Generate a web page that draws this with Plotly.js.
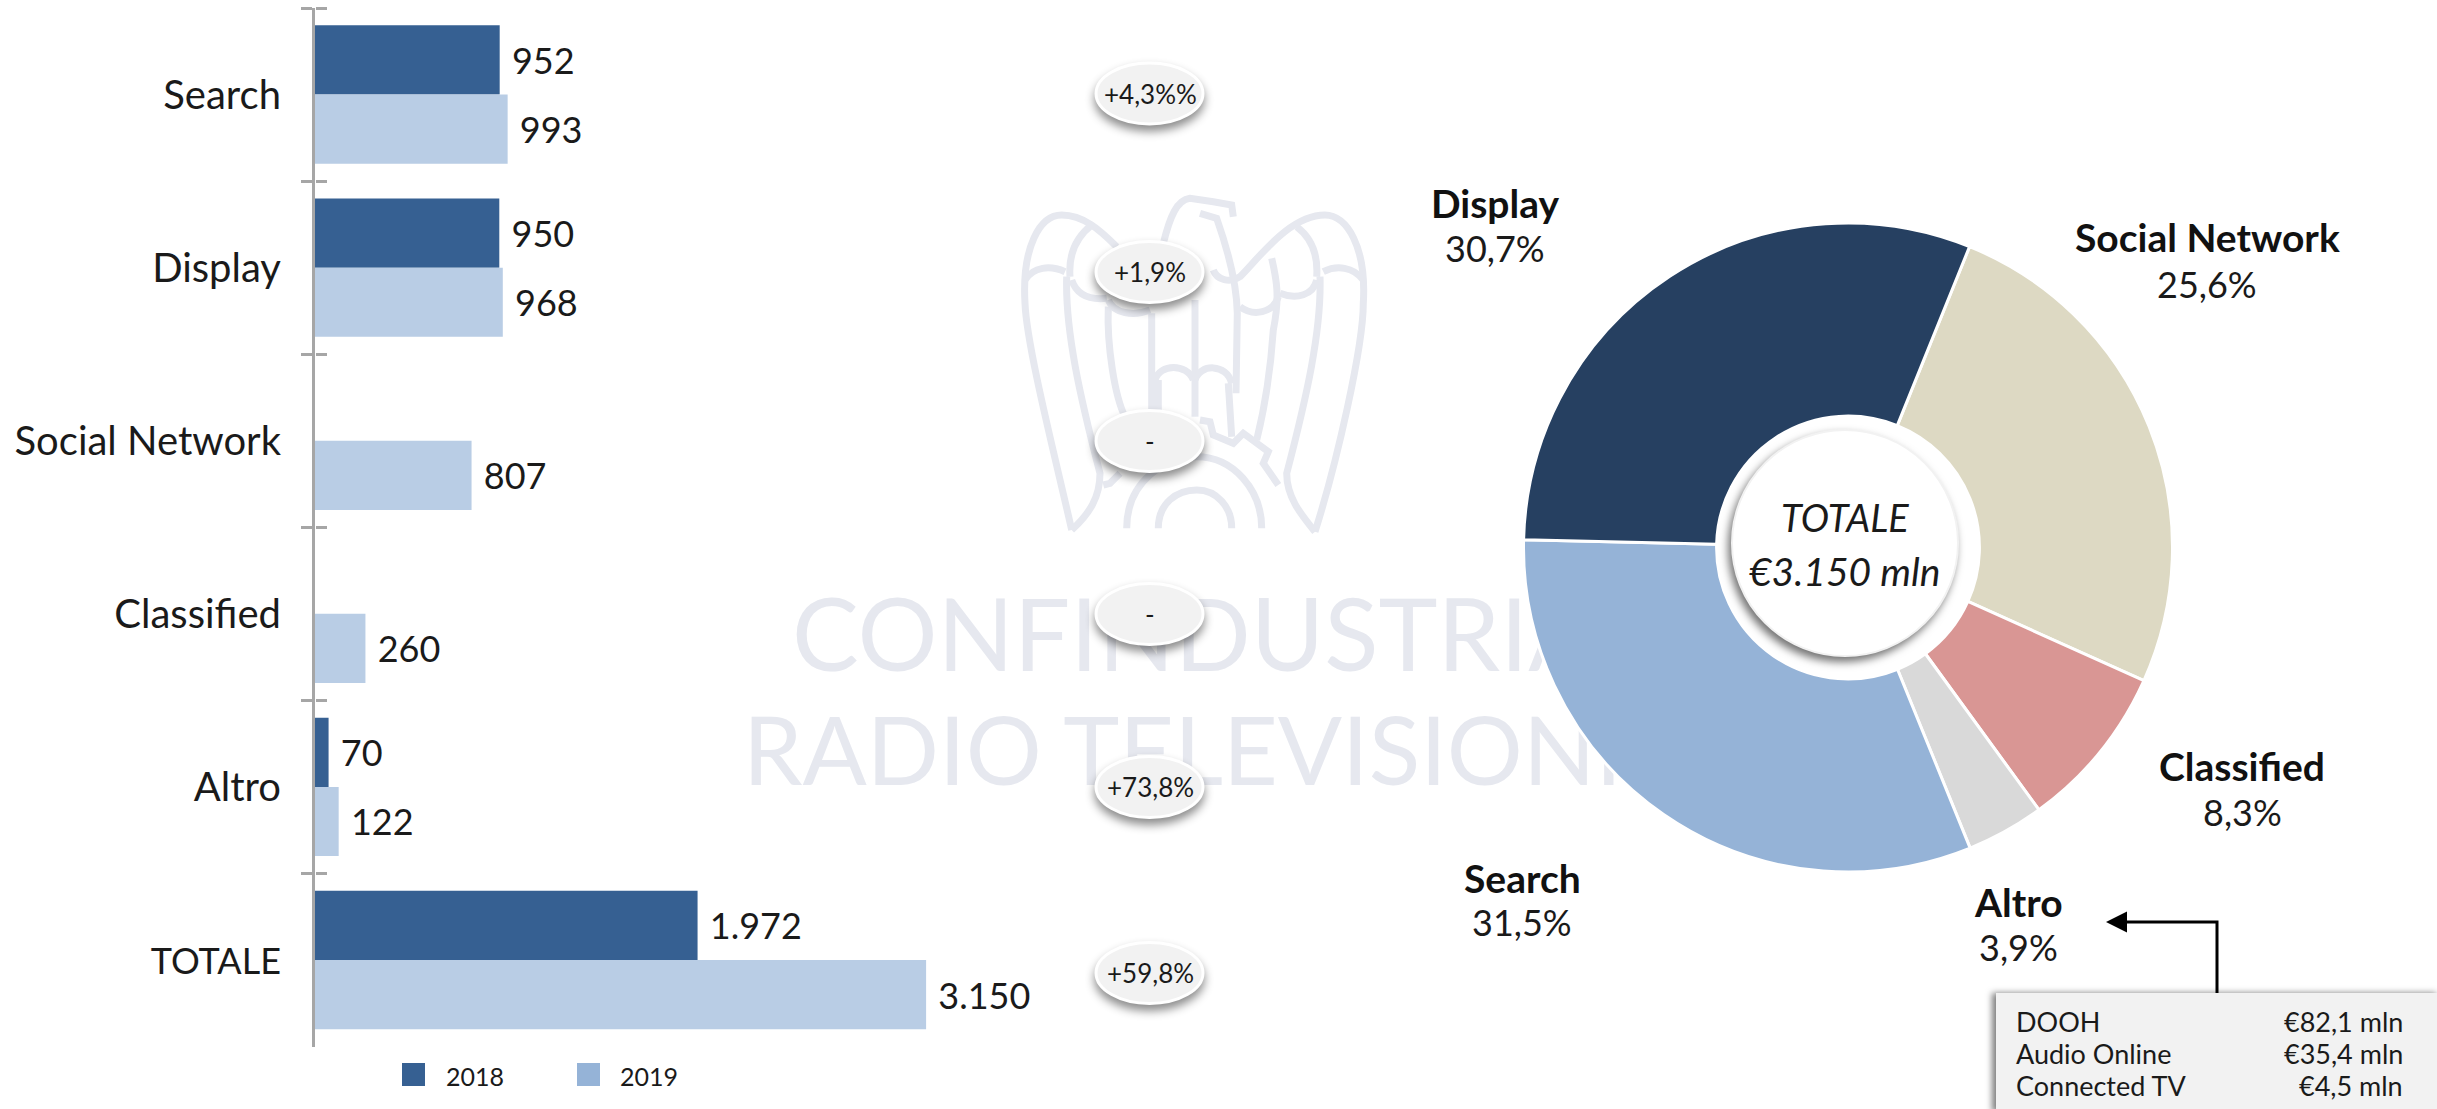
<!DOCTYPE html>
<html>
<head>
<meta charset="utf-8">
<script src="https://cdn.plot.ly/plotly-3.0.1.min.js"></script>
<style>html,body{margin:0;padding:0;background:#fff}#chart{width:2437px;height:1109px}</style>
</head>
<body>
<div id="chart"></div>
<script>
// ---- data ----
var categories = ['Search','Display','Social Network','Classified','Altro','TOTALE'];
var values2018 = [952,950,null,null,70,1972];
var values2019 = [993,968,807,260,122,3150];
var labels2018 = ['952','950','','','70','1.972'];
var labels2019 = ['993','968','807','260','122','3.150'];
var seriesNames = ['2018','2019'];
var changes = ['+4,3%%','+1,9%','-','-','+73,8%','+59,8%'];
var pieLabels = ['Social Network','Classified','Altro','Search','Display'];
var pieValues = [807,260,122,993,968];
var pieShares = ['25,6%','8,3%','3,9%','31,5%','30,7%'];
var altroRows = ['DOOH','Audio Online','Connected TV'];
var altroValues = ['€82,1 mln','€35,4 mln','€4,5 mln'];
var watermark = ['CONFINDUSTRIA','RADIO TELEVISIONI'];

// ---- styles ----
var W = 2437, H = 1109;
var FONT = 'Lato, sans-serif';
var INK = '#1a1a1a';
var AXIS = '#a6a6a6';
var C2018 = '#366092', C2019 = '#b9cde5', C2019KEY = '#95b3d7';
var MARK = '#e6e8ef';
var pieColors = ['#ddd9c3','#d99694','#d9d9d9','#95b3d7','#264061'];

// ---- traces ----
var traces = [
  {type:'scatter', mode:'text', xaxis:'x3', yaxis:'y3', x:[792,743], y:[646,761],
   text:[watermark[0], watermark[1]], textposition:'middle right', cliponaxis:false,
   textfont:{family:FONT, size:[100,95], color:MARK, weight:400}, hoverinfo:'skip', showlegend:false},
  {type:'bar', orientation:'h', name:seriesNames[0], y:categories, x:values2018, text:labels2018,
   marker:{color:C2018}, textposition:'outside', cliponaxis:false, constraintext:'none',
   texttemplate:'\u00a0%{text}', textfont:{family:FONT,size:36,color:INK}, showlegend:false},
  {type:'bar', orientation:'h', name:seriesNames[1], y:categories, x:values2019, text:labels2019,
   marker:{color:C2019}, textposition:'outside', cliponaxis:false, constraintext:'none',
   texttemplate:'\u00a0%{text}', textfont:{family:FONT,size:36,color:INK}, showlegend:false},
  {type:'scatter', mode:'markers', yaxis:'y2', x:values2019, y:categories, marker:{opacity:0},
   hoverinfo:'skip', showlegend:false},
  {type:'pie', labels:pieLabels, values:pieValues, sort:false, direction:'clockwise', rotation:22,
   hole:0.405, textinfo:'none', marker:{colors:pieColors, line:{color:'#ffffff', width:3}},
   domain:{x:[(1848-324.5)/W,(1848+324.5)/W], y:[1-872/H,1-223/H]}, showlegend:false}
];

// ---- helpers in page pixels (x3/y3 spans the whole page) ----
function note(text, x, y, size, opt){
  return Object.assign({xref:'x3', yref:'y3', x:x, y:y, text:text, showarrow:false,
    xanchor:'center', yanchor:'middle', font:{family:FONT, size:size, color:INK}}, opt||{});
}
function box(type, x0, y0, x1, y1, fill, line, lw, layer){
  return {type:type, xref:'x3', yref:'y3', x0:x0, y0:y0, x1:x1, y1:y1, fillcolor:fill,
    line:{color:line||fill, width:lw===undefined?0:lw}, layer:layer||'above'};
}
function eaglePath(d){
  var isX = true;
  var p = d.replace(/-?\d+(\.\d+)?/g, function(n){
    var v = isX ? 1000 + n/3 : 180 + n/3; isX = !isX; return v.toFixed(1);
  });
  return {type:'path', xref:'x3', yref:'y3', path:p, layer:'below',
    line:{color:MARK, width:7}, fillcolor:'rgba(0,0,0,0)'};
}
var eagle = [
  'M215 1050 C170 850 80 500 75 370 C65 200 120 105 185 105 C250 105 300 150 350 200',
  'M75 300 C100 260 150 255 195 275',
  'M215 1050 C270 1000 300 950 300 880 C240 650 195 450 200 290',
  'M210 290 C205 220 230 170 275 135',
  'M215 300 C230 345 270 360 320 355',
  'M325 360 C340 400 400 410 450 390',
  'M325 380 C320 500 345 650 375 710',
  'M455 400 L455 700','M585 360 L585 710',
  'M465 600 C480 550 560 550 580 600','M585 600 C600 550 680 550 695 610',
  'M475 600 L475 700','M685 610 L695 770',
  'M490 190 C510 110 530 60 570 55 L640 65 L695 75 L700 110',
  'M600 100 L650 115 C680 200 710 300 712 400 L708 640',
  'M640 270 C650 300 690 310 720 290 C780 230 870 105 975 105 C1040 105 1100 200 1090 370 C1090 500 1010 850 945 1055',
  'M1090 300 C1060 260 1010 255 970 275',
  'M945 1055 C900 1000 860 950 860 880 C920 650 965 450 960 290',
  'M950 290 C955 220 930 170 890 140',
  'M950 300 C940 345 890 360 840 340',
  'M835 350 C820 400 760 410 720 380',
  'M815 235 C830 300 840 350 820 450 C810 600 790 700 770 780',
  'M600 720 L630 725 L640 765 L700 790 L730 760 L805 815 L790 850 L835 915',
  'M380 1045 C380 900 500 830 590 830 C700 830 785 930 785 1045',
  'M475 1045 C475 970 530 930 590 930 C650 930 695 980 695 1045',
  'M310 915 L330 910 L360 880'
].map(eaglePath);

// ---- shapes and annotations ----
var ellipseY = [93.5,272,441,614,787,973];
var shapes = eagle.slice();
var annotations = [];
ellipseY.forEach(function(cy,i){
  shapes.push(box('circle',1096,cy-30.5,1203,cy+30.5,'#f2f2f2','#ffffff',3));
  annotations.push(note(changes[i],1150,cy,26));
});
// legend
shapes.push(box('rect',402,1063,425,1086,C2018));
shapes.push(box('rect',577,1063,600,1086,C2019KEY));
annotations.push(note(seriesNames[0],444,1076,25,{xanchor:'left'}));
annotations.push(note(seriesNames[1],618,1076,25,{xanchor:'left'}));
// doughnut centre
shapes.push(box('circle',1732,430,1958,656,'#ffffff','#f2f2f2',2));
annotations.push(note('<i>TOTALE</i>',1845,517,38));
annotations.push(note('<i>€3.150 mln</i>',1845,571,39));
// doughnut labels
var piePos = {'Social Network':[2207,237,284],'Classified':[2242,766,812],'Altro':[2018,902,947],'Search':[1522,878,922],'Display':[1495,203,248]};
pieLabels.forEach(function(l,i){
  var p = piePos[l];
  annotations.push(note('<b>'+l+'</b>',p[0],p[1],39,{font:{family:FONT,size:39,color:'#111',weight:700}}));
  annotations.push(note(pieShares[i],p[0],p[2],36));
});
// Altro breakdown
shapes.push(box('rect',1996,993,2440,1112,'#f2f2f2'));
shapes.push({type:'path',xref:'x3',yref:'y3',path:'M2217 993 L2217 922 L2118 922',layer:'above',line:{color:'#000',width:3}});
annotations.push({xref:'x3',yref:'y3',axref:'x3',ayref:'y3',x:2106,y:922,ax:2125,ay:922,text:'',showarrow:true,arrowhead:2,arrowsize:1.4,arrowwidth:3,arrowcolor:'#000'});
var rowY = [1021,1053,1085];
altroRows.forEach(function(r,i){
  annotations.push(note(r,2014,rowY[i],27,{xanchor:'left'}));
  annotations.push(note(altroValues[i],2405,rowY[i],27,{xanchor:'right'}));
});

var catRange = [5.5,-0.5];
var yDomain = [1-1046.5/H, 1-8/H];
var layout = {
  width:W, height:H, margin:{l:0,r:0,t:0,b:0,pad:0},
  paper_bgcolor:'#ffffff', plot_bgcolor:'rgba(0,0,0,0)',
  barmode:'group', bargap:0.2, bargroupgap:0, showlegend:false,
  font:{family:FONT,color:INK},
  xaxis:{domain:[315/W,(315+3500*0.194)/W], range:[0,3500], visible:false, fixedrange:true},
  yaxis:{domain:yDomain, type:'category', categoryorder:'array', categoryarray:categories, range:catRange,
    showgrid:false, zeroline:false, showline:true, linecolor:AXIS, linewidth:3,
    ticks:'outside', ticklen:11, tickwidth:3, tickcolor:AXIS, tickson:'boundaries',
    ticklabelstandoff:23, tickfont:{family:FONT,size:40,color:INK},
    labelalias:{'TOTALE':'<span style="font-size:36px">TOTALE</span>'}},
  yaxis2:{domain:yDomain, type:'category', categoryorder:'array', categoryarray:categories, range:catRange,
    overlaying:'y', anchor:'free', position:315/W, side:'right', showgrid:false, zeroline:false, showline:false,
    ticks:'outside', ticklen:11, tickwidth:3, tickcolor:AXIS, tickson:'boundaries', showticklabels:false},
  xaxis3:{domain:[0,1], range:[0,W], visible:false, anchor:'y3'},
  yaxis3:{domain:[0,1], range:[H,0], visible:false, anchor:'x3'},
  shapes:shapes, annotations:annotations
};

Plotly.newPlot('chart', traces, layout, {displayModeBar:false, staticPlot:true}).then(function(){
  document.querySelectorAll('.layer-above .shapelayer path').forEach(function(p){
    var fill = p.style.fill || '';
    var d = p.getAttribute('d') || '';
    if (fill.indexOf('242')>=0 && d.indexOf('A')>=0) p.style.filter = 'drop-shadow(0px 6px 5px rgba(0,0,0,0.45))';
    else if (fill.indexOf('242')>=0) p.style.filter = 'drop-shadow(-4px 0px 3px rgba(0,0,0,0.5))';
    else if (fill.indexOf('255')>=0 && d.indexOf('A')>=0) p.style.filter = 'drop-shadow(-3px 5px 4px rgba(0,0,0,0.55))';
  });
});
</script>
</body>
</html>
